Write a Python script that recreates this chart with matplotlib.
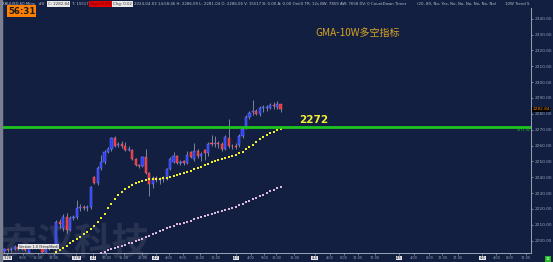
import numpy as np
import matplotlib
matplotlib.use("Agg")
import matplotlib.pyplot as plt
from matplotlib.patches import Rectangle

# ---- data (XAUUSD, H1) ----
opens = [2193.5, 2194.5, 2193.8, 2195.0, 2195.8, 2194.8, 2195.5, 2192.0, 2195.5, 2195.6,
         2196.3, 2196.2, 2193.0, 2195.0, 2195.8, 2195.0, 2211.8, 2208.0, 2215.0, 2207.0,
         2214.3, 2215.0, 2220.6, 2221.5, 2220.8, 2221.2, 2240.1, 2236.3, 2245.8, 2249.6,
         2255.9, 2257.5, 2264.7, 2260.3, 2261.0, 2259.7, 2257.2, 2257.2, 2251.5, 2247.7,
         2247.1, 2252.7, 2242.6, 2235.7, 2239.5, 2238.2, 2238.9, 2238.9, 2245.2, 2249.6,
         2253.4, 2249.0, 2250.2, 2249.0, 2255.9, 2251.5, 2256.5, 2253.4, 2257.2, 2255.3,
         2261.6, 2260.9, 2261.6, 2260.9, 2257.8, 2264.7, 2260.0, 2259.9, 2260.3, 2266.0,
         2271.7, 2278.0, 2281.2, 2281.8, 2279.9, 2283.4, 2283.5, 2283.7, 2285.8, 2284.3,
         2286.06]
closes = [2194.5, 2193.8, 2195.0, 2195.8, 2194.8, 2195.5, 2194.0, 2195.5, 2196.2, 2196.3,
          2195.8, 2193.0, 2195.0, 2195.8, 2196.5, 2211.7, 2210.5, 2215.0, 2207.0, 2214.3,
          2215.0, 2220.6, 2221.3, 2220.8, 2221.5, 2233.8, 2236.3, 2245.8, 2249.6, 2255.9,
          2257.8, 2264.7, 2259.7, 2261.0, 2259.7, 2257.2, 2257.9, 2251.5, 2247.7, 2247.1,
          2252.7, 2242.6, 2235.7, 2239.5, 2238.2, 2238.9, 2239.8, 2245.2, 2251.5, 2253.4,
          2249.0, 2249.8, 2249.0, 2254.0, 2252.7, 2256.5, 2253.4, 2254.5, 2255.3, 2260.9,
          2260.9, 2261.6, 2260.9, 2257.8, 2265.4, 2259.7, 2259.5, 2259.3, 2266.0, 2270.4,
          2278.0, 2280.5, 2281.8, 2279.9, 2283.7, 2284.0, 2284.1, 2285.6, 2285.2, 2286.2,
          2282.84]
highs = [2195.5, 2195.5, 2196.2, 2197.0, 2196.5, 2196.3, 2196.2, 2196.5, 2197.0, 2197.2,
         2197.0, 2197.0, 2196.0, 2196.8, 2197.5, 2213.0, 2213.5, 2217.0, 2217.5, 2215.5,
         2216.0, 2225.6, 2223.0, 2222.5, 2222.5, 2234.5, 2241.0, 2247.0, 2254.0, 2257.0,
         2259.0, 2265.5, 2266.0, 2262.0, 2263.0, 2262.5, 2260.0, 2258.0, 2252.0, 2248.5,
         2253.5, 2257.8, 2243.5, 2241.0, 2241.0, 2240.0, 2241.0, 2246.0, 2252.5, 2256.0,
         2254.0, 2251.0, 2251.0, 2256.5, 2256.5, 2261.6, 2258.0, 2256.0, 2258.0, 2262.0,
         2266.5, 2266.0, 2263.0, 2262.0, 2266.5, 2276.7, 2261.0, 2261.5, 2267.0, 2271.5,
         2279.0, 2281.5, 2288.7, 2283.0, 2285.0, 2285.5, 2285.5, 2287.0, 2287.5, 2288.0,
         2286.09]
lows = [2192.5, 2192.8, 2193.0, 2194.0, 2194.0, 2194.0, 2193.2, 2191.5, 2194.8, 2194.8,
        2195.0, 2192.5, 2192.5, 2194.2, 2195.0, 2194.0, 2208.0, 2206.0, 2205.0, 2206.0,
        2213.0, 2213.5, 2219.0, 2219.5, 2219.0, 2220.0, 2235.5, 2235.0, 2244.5, 2248.5,
        2255.0, 2256.5, 2259.0, 2259.0, 2258.5, 2256.5, 2256.5, 2250.8, 2247.0, 2246.0,
        2246.5, 2242.0, 2228.1, 2233.0, 2237.0, 2236.0, 2237.0, 2238.0, 2244.5, 2249.0,
        2248.5, 2248.0, 2248.0, 2248.5, 2252.0, 2250.5, 2252.0, 2250.0, 2251.0, 2253.5,
        2259.5, 2259.0, 2258.5, 2256.5, 2257.0, 2258.5, 2258.0, 2257.5, 2259.0, 2265.0,
        2270.5, 2277.0, 2279.5, 2279.0, 2278.5, 2281.0, 2281.5, 2283.0, 2283.0, 2283.0,
        2281.04]

gma_start = 15
gma_fast = [2192.8, 2194.0, 2195.3, 2196.5, 2198.5, 2199.7, 2201.0, 2202.2, 2204.1, 2205.7,
            2207.3, 2209.2, 2211.7, 2214.0, 2217.1, 2220.3, 2223.4, 2226.2, 2228.8, 2230.7,
            2232.6, 2234.1, 2235.4, 2236.3, 2237.3, 2237.9, 2238.2, 2238.6, 2238.9, 2238.9,
            2238.9, 2239.2, 2239.5, 2240.1, 2240.8, 2241.4, 2242.0, 2242.6, 2243.3, 2244.2,
            2244.9, 2245.8, 2246.7, 2247.7, 2248.6, 2249.3, 2250.2, 2250.9, 2251.5, 2252.1,
            2252.7, 2253.4, 2254.0, 2255.3, 2256.2, 2257.5, 2259.1, 2260.6, 2262.5, 2264.1,
            2265.4, 2266.6, 2267.9, 2268.8, 2269.8, 2270.7]
slow_start = 27
gma_slow = [2191.2, 2192.2, 2193.1, 2194.1, 2194.7, 2195.3, 2196.3, 2196.9, 2197.5, 2198.2,
            2198.8, 2199.7, 2200.4, 2201.3, 2202.3, 2203.2, 2204.2, 2205.1, 2206.1, 2207.0,
            2208.0, 2208.9, 2209.5, 2210.2, 2210.8, 2211.4, 2212.0, 2212.7, 2213.6, 2214.3,
            2214.9, 2215.5, 2216.2, 2216.8, 2217.4, 2218.0, 2218.7, 2219.3, 2219.9, 2220.6,
            2221.5, 2222.5, 2223.4, 2224.4, 2225.3, 2226.2, 2227.2, 2228.1, 2229.1, 2230.0,
            2231.0, 2231.9, 2232.9, 2233.8]

level = 2271.5
price_ticks = list(range(2200, 2341, 10))
time_pos = [0.8, 5.3, 9.7, 14.3, 20.8, 25.7, 29.5, 34.5, 40.0, 43.8, 47.6, 51.7, 56.6, 61.3,
            67.1, 71.5, 75.3, 78.8, 84.0, 89.9, 94.2, 98.3, 102.4, 107.3, 114.3, 118.7,
            123.1, 126.9, 131.3, 138.5, 142.6, 146.4, 151.1]
time_labels = ["3-28", "9:00", "13:00", "18:00", "3-29", "4-1", "10:00", "15:00", "20:00",
               "4-2", "4:00", "9:00", "13:00", "18:00", "4-3", "4:00", "9:00", "13:00",
               "18:00", "4-4", "4:00", "8:00", "12:00", "17:00", "4-5", "4:00", "8:00",
               "12:00", "17:00", "4-6", "4:00", "8:00", "12:00"]

BG = "#131f41"
GRID = "#9aa3b5"
CJK = ["Noto Sans CJK SC", "DejaVu Sans"]

fig = plt.figure(figsize=(5.53, 2.62), dpi=100, facecolor=BG)
ax = fig.add_axes([3 / 553, 9 / 262, 528 / 553, 245 / 262])
ax.set_facecolor("none")

# watermark behind everything
fig.text(0.0, 0.0, "安汉科技", fontsize=27, family=CJK, color="#283352",
         fontweight="bold", zorder=-1, va="bottom")

# candles
x = np.arange(len(opens))
o = np.array(opens)
c = np.array(closes)
up = c >= o
ax.vlines(x, lows, highs, color="#7b8497", lw=0.7, zorder=2)
ax.bar(x[up], (c - o)[up], bottom=o[up], width=0.62, color="#2a3cff",
       edgecolor="#7d8cff", linewidth=0.3, zorder=3)
ax.bar(x[~up], (o - c)[~up], bottom=c[~up], width=0.62, color="#e8343a",
       edgecolor="#ff6d70", linewidth=0.3, zorder=3)

# moving averages (dotted)
xf = np.arange(gma_start, gma_start + len(gma_fast))
ax.scatter(xf, gma_fast, s=2.2, marker="s", color="#f2ee2a", linewidths=0, zorder=4)
xs = np.arange(slow_start, slow_start + len(gma_slow))
ax.scatter(xs, gma_slow, s=2.2, marker="s", color="#dcb8dc", linewidths=0, zorder=4)

# key level
ax.axhline(level, color="#1fc41f", lw=2, zorder=5)
ax.text(85.5, level + 1.2, "2272", color="#f3f032", fontsize=7.5, fontweight="bold",
        ha="left", va="bottom", zorder=6)
ax.text(152.4, level - 0.6, "2271.92", color="#1fc41f", fontsize=2.4, ha="right",
        va="top", zorder=6)

ax.set_xlim(-0.43, 152.6)
ax.set_ylim(2192.2, 2346.75)

# right price axis
ax.yaxis.tick_right()
ax.set_yticks(price_ticks)
ax.set_yticklabels([f"{v:.2f}" for v in price_ticks])
ax.tick_params(axis="y", colors=GRID, labelsize=3.1, length=1.5, width=0.5, pad=1)
ax.set_xticks(time_pos)
ax.set_xticklabels(time_labels)
ax.tick_params(axis="x", colors=GRID, labelsize=2.5, length=1.2, width=0.5, pad=1)
for lab in ax.get_xticklabels():
    if "-" in lab.get_text():
        lab.set_color("#1a1a2a")
        lab.set_bbox(dict(facecolor="#e6e6ea", edgecolor="none", pad=0.3))
for side in ["top", "left"]:
    ax.spines[side].set_visible(False)
ax.spines["right"].set_color(GRID)
ax.spines["bottom"].set_color(GRID)
ax.spines["right"].set_linewidth(0.7)
ax.spines["bottom"].set_linewidth(0.7)

# current price tag
ax.text(152.95, 2282.84, "2282.84", color="#ff8c1a", fontsize=3.1, ha="left", va="center",
        transform=ax.transData, clip_on=False, zorder=7,
        bbox=dict(facecolor="black", edgecolor="none", pad=0.4))

# indicator title
fig.text(358 / 553, 1 - 33 / 262, "GMA-10W多空指标", family=CJK, color="#d8a524",
         fontsize=7.2, ha="center", va="center")

# countdown box
fig.text(8 / 553, 1 - 11 / 262, "56:31", color="#1a1a1a", fontsize=6.2, fontweight="bold",
         ha="left", va="center",
         bbox=dict(facecolor="#ff8000", edgecolor="none", pad=0.8))

# header line
hy = 1 - 4 / 262
hdr = dict(fontsize=2.8, va="center", ha="left")
fig.text(2 / 553, hy, "XAUUSD,60 Mins   #0", color="#b9bfcc", **hdr)
fig.text(48 / 553, hy, "C: 2282.84", color="#333", **hdr,
         bbox=dict(facecolor="#e8e8e8", edgecolor="none", pad=0.4))
fig.text(72 / 553, hy, "T: 15517", color="#b9bfcc", **hdr)
fig.text(90 / 553, hy, "Chg:+0.5%", color="#550000", **hdr,
         bbox=dict(facecolor="#e00000", edgecolor="none", pad=0.4))
fig.text(113 / 553, hy, "Chg: 0.02", color="#333", **hdr,
         bbox=dict(facecolor="#e8e8e8", edgecolor="none", pad=0.4))
fig.text(134 / 553, hy, "2024-04-03 14:58:46 H: 2286.09 L: 2281.04 O: 2286.06 V: 15517 "
         "B: 0.00 A: 0.00 Ord:0 TR: 12s BW: 7859 AW: 7658 DV: 0 CountDown Timer",
         color="#b9bfcc", **hdr)
fig.text(417 / 553, hy, "(20, 80, No, Yes, No, No, No, No, No, No)", color="#b9bfcc", **hdr)
fig.text(505 / 553, hy, "10W Trend S", color="#b9bfcc", **hdr)

# small version tag bottom-left
ax.text(4.2, 2196.3, "Version 1.0 (Simplified)", color="#222", fontsize=2.4,
        ha="left", va="center", zorder=6,
        bbox=dict(facecolor="#e4e4e4", edgecolor="none", pad=0.4))

# left border and corner marker
fig.add_artist(Rectangle((0, 0), 2 / 553, 1, color="#7b8090", transform=fig.transFigure))
fig.text(548 / 553, 3 / 262, "11", color="white", fontsize=3, ha="center", va="center",
         bbox=dict(facecolor="#22bb22", edgecolor="none", pad=0.7))

fig.savefig("out.png", dpi=100, facecolor=BG)
